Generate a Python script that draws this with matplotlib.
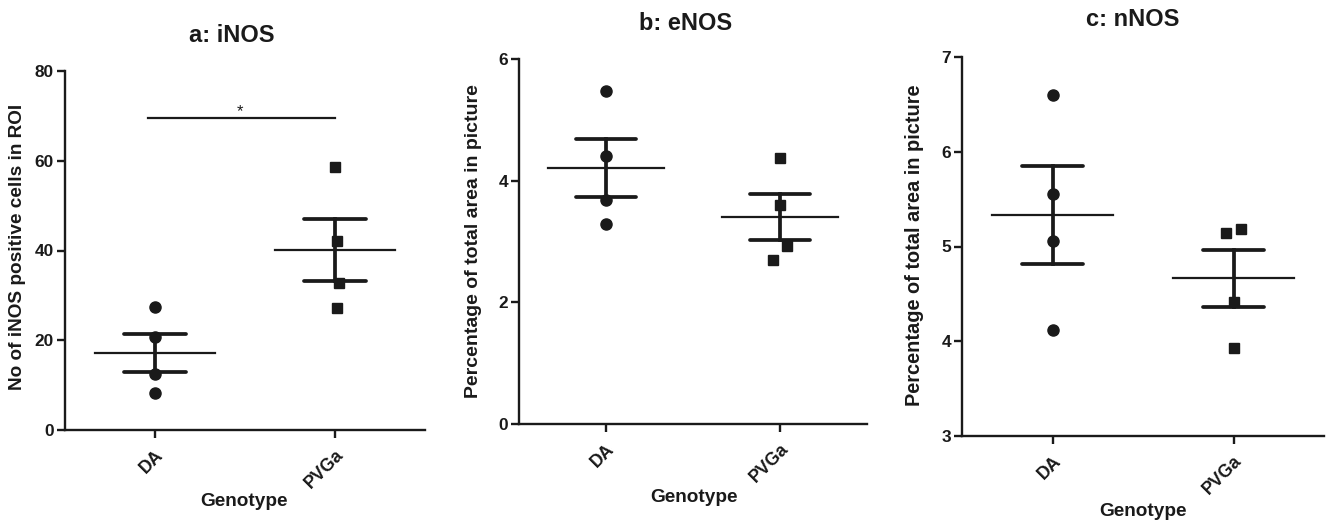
import numpy as np
import matplotlib
matplotlib.use("Agg")
import matplotlib.pyplot as plt

plt.rcParams['font.family'] = ['Liberation Sans', 'DejaVu Sans']
plt.rcParams['font.weight'] = 'bold'

categories = ["DA", "PVGa"]

# Panel a: iNOS
inos_da = [27.3, 20.7, 12.5, 8.2]
inos_pvga = [58.5, 42.1, 32.7, 27.1]
# Panel b: eNOS
enos_da = [5.48, 4.40, 3.68, 3.28]
enos_pvga = [4.37, 3.60, 2.93, 2.70]
# Panel c: nNOS
nnos_da = [6.60, 5.55, 5.06, 4.12]
nnos_pvga = [5.14, 5.18, 4.41, 3.93]

titles = ["a: iNOS", "b: eNOS", "c: nNOS"]
ylabels = ["No of iNOS positive cells in ROI",
           "Percentage of total area in picture",
           "Percentage of total area in picture"]
yticks_list = [[0, 20, 40, 60, 80], [0, 2, 4, 6], [3, 4, 5, 6, 7]]

# small horizontal scatter offsets (as in the reference)
jit_da = [[0, 0, 0, 0], [0, 0, 0, 0], [0, 0, 0, 0]]
jit_pvga = [[0, 0.01, 0.02, 0.01], [0, 0, 0.04, -0.04], [-0.04, 0.04, 0, 0]]

W, H = 1326, 522
fig = plt.figure(figsize=(W / 100, H / 100), dpi=100)
col = '#1a1a1a'

# axes rectangles in pixels: left, right, top, bottom
rects = [(65, 425, 71, 430), (519, 867, 59, 424), (962, 1324, 57, 436)]
title_pos = [(232, 36), (686, 24), (1133, 19)]
ylabel_pos = [(18, 247), (473, 241), (915, 245)]
xlabel_pos = [(244, 502), (694, 497), (1143, 512)]
ylabel_sizes = [13.7, 14.0, 14.4]

data = [(inos_da, inos_pvga), (enos_da, enos_pvga), (nnos_da, nnos_pvga)]

for i, ((da, pv), (l, r, t, b)) in enumerate(zip(data, rects)):
    ax = fig.add_axes([l / W, 1 - b / H, (r - l) / W, (b - t) / H])
    for j, (vals, mk, ms) in enumerate([(da, 'o', 8.0), (pv, 's', 7.4)]):
        vals = np.asarray(vals)
        offs = (jit_da if j == 0 else jit_pvga)[i]
        ax.plot(j + np.asarray(offs), vals, linestyle='none', marker=mk,
                ms=ms, color=col, zorder=3)
        m = vals.mean()
        sem = vals.std(ddof=1) / np.sqrt(len(vals))
        ax.plot([j - 0.335, j + 0.335], [m, m], color=col, lw=1.6, zorder=2)
        ax.plot([j - 0.17, j + 0.17], [m + sem, m + sem], color=col, lw=2.7,
                solid_capstyle='round', zorder=2)
        ax.plot([j - 0.17, j + 0.17], [m - sem, m - sem], color=col, lw=2.7,
                solid_capstyle='round', zorder=2)
        ax.plot([j, j], [m - sem, m + sem], color=col, lw=2.7, zorder=2)

    yt = yticks_list[i]
    ax.set_ylim(yt[0], yt[-1])
    ax.set_xlim(-0.5, 1.5)
    ax.set_yticks(yt)
    ax.set_xticks([0, 1])
    ax.set_xticklabels(categories, rotation=45, ha='right', va='top',
                       rotation_mode='anchor', fontsize=12.8, fontweight='bold')
    ax.tick_params(axis='y', labelsize=12.4, width=1.7, length=6, color=col,
                   labelcolor=col, pad=2)
    ax.tick_params(axis='x', width=1.7, length=6, color=col,
                   labelcolor=col, pad=6)
    for lab in ax.get_yticklabels():
        lab.set_fontweight('bold')
    for s in ['top', 'right']:
        ax.spines[s].set_visible(False)
    for s in ['left', 'bottom']:
        ax.spines[s].set_linewidth(1.7)
        ax.spines[s].set_color(col)
    ax.patch.set_visible(False)

    ax.set_ylabel(ylabels[i], fontsize=ylabel_sizes[i], fontweight='bold', color=col)
    ax.yaxis.set_label_coords(ylabel_pos[i][0] / W, 1 - ylabel_pos[i][1] / H,
                              transform=fig.transFigure)
    ax.set_xlabel("Genotype", fontsize=13.7, fontweight='bold', color=col)
    ax.xaxis.set_label_coords(xlabel_pos[i][0] / W, 1 - xlabel_pos[i][1] / H,
                              transform=fig.transFigure)
    ax.xaxis.label.set_va('center')
    ax.yaxis.label.set_va('center')
    fig.text(title_pos[i][0] / W, 1 - title_pos[i][1] / H, titles[i],
             fontsize=17, fontweight='bold', color=col,
             ha='center', va='center')

    if i == 0:
        ax.plot([-0.04, 1.0], [69.5, 69.5], color=col, lw=1.6, clip_on=False)
        ax.text(0.47, 71.0, "*", ha='center', va='center', fontsize=12,
                fontweight='normal', color=col)

fig.savefig("out.png", dpi=100)
